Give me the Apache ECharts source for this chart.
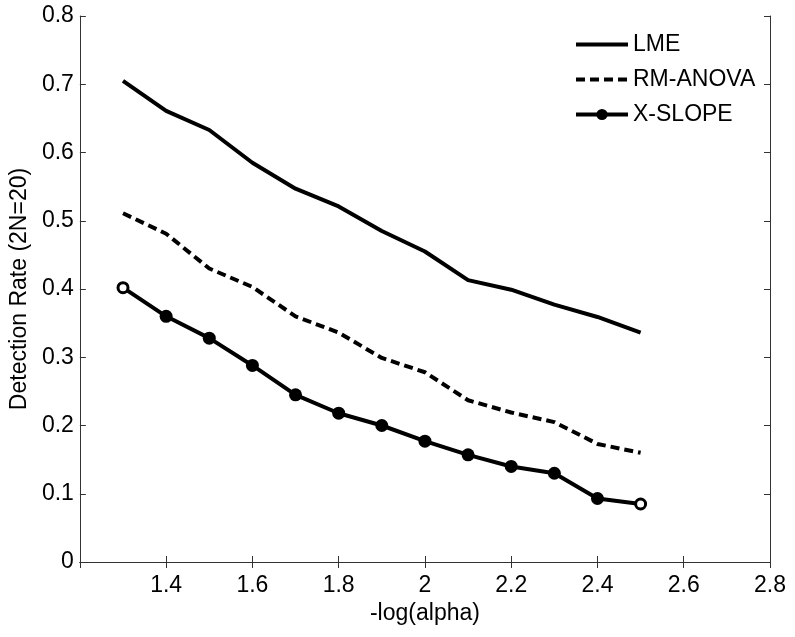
<!DOCTYPE html>
<html>
<head>
<meta charset="utf-8">
<script src="https://cdn.jsdelivr.net/npm/echarts@6/dist/echarts.min.js"></script>
<style>html,body{margin:0;padding:0;background:#fff;}#c{width:795px;height:637px;}</style>
</head>
<body>
<div id="c"></div>
<script>
const xVals = [1.3, 1.4, 1.5, 1.6, 1.7, 1.8, 1.9, 2.0, 2.1, 2.2, 2.3, 2.4, 2.5];
const lme = [0.705, 0.661, 0.633, 0.585, 0.547, 0.521, 0.485, 0.455, 0.413, 0.399, 0.377, 0.359, 0.336];
const rmAnova = [0.511, 0.481, 0.430, 0.403, 0.360, 0.336, 0.299, 0.278, 0.237, 0.219, 0.205, 0.173, 0.160];
const xSlope = [0.402, 0.360, 0.328, 0.288, 0.245, 0.218, 0.200, 0.177, 0.157, 0.140, 0.130, 0.093, 0.085];
const seriesNames = ['LME', 'RM-ANOVA', 'X-SLOPE'];
const xAxisTitle = '-log(alpha)';
const yAxisTitle = 'Detection Rate (2N=20)';

const FONT = "'Liberation Sans', Arial, Helvetica, sans-serif";
const FS = 23;
const DASH = [9, 5];
const chart = echarts.init(document.getElementById('c'), null, {renderer: 'canvas'});
const pairs = arr => arr.map((v, i) => [xVals[i], v]);
const slopeData = xSlope.map((v, i) => {
  const item = {value: [xVals[i], v]};
  if (i === 0 || i === xSlope.length - 1) {
    item.symbolSize = 10;
    item.itemStyle = {color: '#fff', borderColor: '#000', borderWidth: 3};
  }
  return item;
});
const axisCommon = {
  axisLine: {show: true, lineStyle: {color: '#333', width: 1}},
  axisTick: {show: true, inside: true, length: 6, lineStyle: {color: '#333'}},
  splitLine: {show: false}
};
chart.setOption({
  animation: false,
  backgroundColor: '#fff',
  grid: {left: 77, right: 25, top: 16, bottom: 75, containLabel: false},
  legend: {
    orient: 'vertical', left: 574, top: 33, padding: 0,
    itemWidth: 52, itemHeight: 14, itemGap: 12,
    textStyle: {fontFamily: FONT, fontSize: FS, color: '#000'},
    data: [
      {name: seriesNames[0], itemStyle: {opacity: 0}, lineStyle: {color: '#000', width: 4}},
      {name: seriesNames[1], itemStyle: {opacity: 0}, lineStyle: {color: '#000', width: 4, type: DASH}},
      {name: seriesNames[2], itemStyle: {color: '#000'}, lineStyle: {color: '#000', width: 4}}
    ]
  },
  xAxis: [
    Object.assign({}, axisCommon, {
      type: 'value', min: 1.2, max: 2.8, interval: 0.2, position: 'bottom',
      name: xAxisTitle, nameLocation: 'middle', nameGap: 36,
      nameTextStyle: {fontFamily: FONT, fontSize: FS, color: '#000'},
      axisLabel: {fontFamily: FONT, fontSize: FS, color: '#000', margin: 12,
        formatter: v => Math.abs(v - 1.2) < 1e-9 ? '' : String(+v.toFixed(1))}
    }),
    Object.assign({}, axisCommon, {
      type: 'value', min: 1.2, max: 2.8, interval: 0.2, position: 'top',
      axisLabel: {show: false}
    })
  ],
  yAxis: [
    Object.assign({}, axisCommon, {
      type: 'value', min: 0, max: 0.8, interval: 0.1, position: 'left',
      name: yAxisTitle, nameLocation: 'middle', nameGap: 42,
      nameTextStyle: {fontFamily: FONT, fontSize: FS, color: '#000'},
      axisLabel: {fontFamily: FONT, fontSize: FS, color: '#000', margin: 6}
    }),
    Object.assign({}, axisCommon, {
      type: 'value', min: 0, max: 0.8, interval: 0.1, position: 'right',
      axisLabel: {show: false}
    })
  ],
  series: [
    {name: seriesNames[0], type: 'line', data: pairs(lme), symbol: 'none',
      lineStyle: {color: '#000', width: 4}, itemStyle: {color: '#000'}},
    {name: seriesNames[1], type: 'line', data: pairs(rmAnova), symbol: 'none',
      lineStyle: {color: '#000', width: 4, type: DASH}, itemStyle: {color: '#000'}},
    {name: seriesNames[2], type: 'line', data: slopeData, symbol: 'circle', symbolSize: 13,
      lineStyle: {color: '#000', width: 4}, itemStyle: {color: '#000'}}
  ]
});
</script>
</body>
</html>
